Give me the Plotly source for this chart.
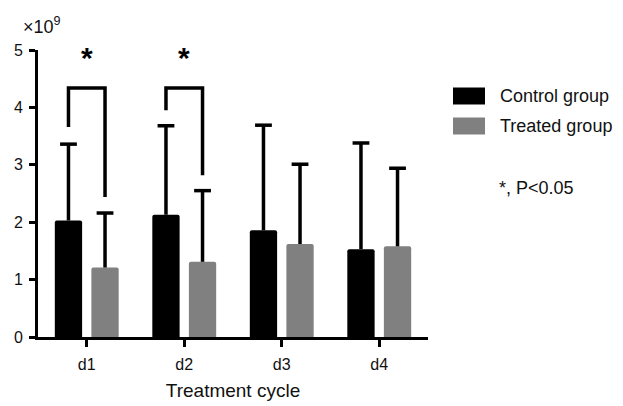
import plotly.graph_objects as go

categories = ["d1", "d2", "d3", "d4"]
control_mean = [2.03, 2.13, 1.86, 1.53]
control_sd = [1.33, 1.55, 1.83, 1.85]
treated_mean = [1.21, 1.31, 1.62, 1.58]
treated_sd = [0.95, 1.24, 1.39, 1.36]
y_ticks = [0, 1, 2, 3, 4, 5]

# significance brackets: category index, left leg bottom, top, right leg bottom
sig_cats = [0, 1]
sig_left_bottom = [3.66, 3.95]
sig_top = [4.34, 4.34]
sig_right_bottom = [2.44, 2.82]
star_y = 4.92

FONT = "Liberation Sans, Arial, Helvetica, sans-serif"
BAR_OFF = 0.1875
BAR_W = 0.28
idx = list(range(len(categories)))

fig = go.Figure()
groups = [
    ("Control group", control_mean, control_sd, "#000000", -BAR_OFF),
    ("Treated group", treated_mean, treated_sd, "#808080", BAR_OFF),
]
for name, mean, sd, col, off in groups:
    xs = [i + off for i in idx]
    fig.add_trace(go.Bar(
        x=xs, y=mean, name=name, width=BAR_W,
        marker=dict(color=col, line=dict(width=0), cornerradius=2),
        error_y=dict(type="data", array=sd, arrayminus=[0] * len(sd), symmetric=False,
                     color="#000000", thickness=3.5, width=0),
    ))
    # error bar caps (top only)
    fig.add_trace(go.Scatter(
        x=xs, y=[m + s for m, s in zip(mean, sd)], mode="markers",
        marker=dict(symbol="line-ew", size=12, line=dict(width=3.5, color="#000000")),
        showlegend=False, hoverinfo="skip",
    ))

shapes = []
for c, lb, tp, rb in zip(sig_cats, sig_left_bottom, sig_top, sig_right_bottom):
    xl = c - BAR_OFF
    xr = c + BAR_OFF
    shapes.append(dict(type="path", xref="x", yref="y",
                       path=f"M {xl},{lb} L {xl},{tp} L {xr},{tp} L {xr},{rb}",
                       line=dict(color="#000000", width=3.5)))

PH = 287  # plot height in px (406 - 50 - 69)
# legend drawn manually (large rounded swatches)
leg_items = [("Control group", "#000000", 96), ("Treated group", "#808080", 126)]
annotations = []
for name, col, ypx in leg_items:
    yp0 = 1 - (ypx - 8.5 - 50) / PH
    yp1 = 1 - (ypx + 8.5 - 50) / PH
    x0 = (453 - 38) / 390
    x1 = (485 - 38) / 390
    shapes.append(dict(type="rect", xref="paper", yref="paper", x0=x0, x1=x1,
                       y0=yp1, y1=yp0, fillcolor=col, line=dict(width=0), layer="above"))
    annotations.append(dict(text=name, xref="paper", yref="paper",
                            x=(498 - 38) / 390, y=1 - (ypx - 50) / PH,
                            xanchor="left", yanchor="middle", showarrow=False,
                            font=dict(family=FONT, size=18, color="#111111")))

annotations.append(dict(text="*, P<0.05", xref="paper", yref="paper",
                        x=(497 - 38) / 390, y=1 - (188 - 50) / PH,
                        xanchor="left", yanchor="middle", showarrow=False,
                        font=dict(family=FONT, size=18, color="#111111")))
annotations.append(dict(text="×10<sup>9</sup>", xref="paper", yref="paper",
                        x=(21 - 38) / 390, y=1 - (25 - 50) / PH,
                        xanchor="left", yanchor="middle", showarrow=False,
                        font=dict(family=FONT, size=18, color="#111111")))
for c in sig_cats:
    annotations.append(dict(text="<b>*</b>", xref="x", yref="y", x=c, y=star_y,
                            xanchor="center", yanchor="middle", showarrow=False,
                            yshift=-3,
                            font=dict(family=FONT, size=30, color="#000000")))

fig.update_layout(
    width=623, height=406,
    margin=dict(l=38, r=195, t=50, b=69, autoexpand=False),
    paper_bgcolor="white", plot_bgcolor="white",
    showlegend=False,
    shapes=shapes, annotations=annotations,
    font=dict(family=FONT, color="#111111"),
    xaxis=dict(range=[-0.5, 3.5], tickvals=idx, ticktext=categories,
               automargin=False,
               showline=True, linecolor="#000000", linewidth=3,
               ticks="outside", ticklen=7, tickwidth=3, tickcolor="#000000",
               ticklabelstandoff=4,
               showgrid=False, zeroline=False,
               tickfont=dict(family=FONT, size=16, color="#111111"),
               title=dict(text="Treatment cycle", standoff=12,
                          font=dict(family=FONT, size=19, color="#111111"))),
    yaxis=dict(range=[0, 5], tickvals=y_ticks, showline=True, linecolor="#000000",
               automargin=False,
               linewidth=3, ticks="outside", ticklen=6, tickwidth=3, tickcolor="#000000",
               ticklabelstandoff=3,
               showgrid=False, zeroline=False,
               tickfont=dict(family=FONT, size=16, color="#111111")),
)

fig.write_html("out.html", config={"displayModeBar": False},
               post_script="document.body.style.margin='0';")
